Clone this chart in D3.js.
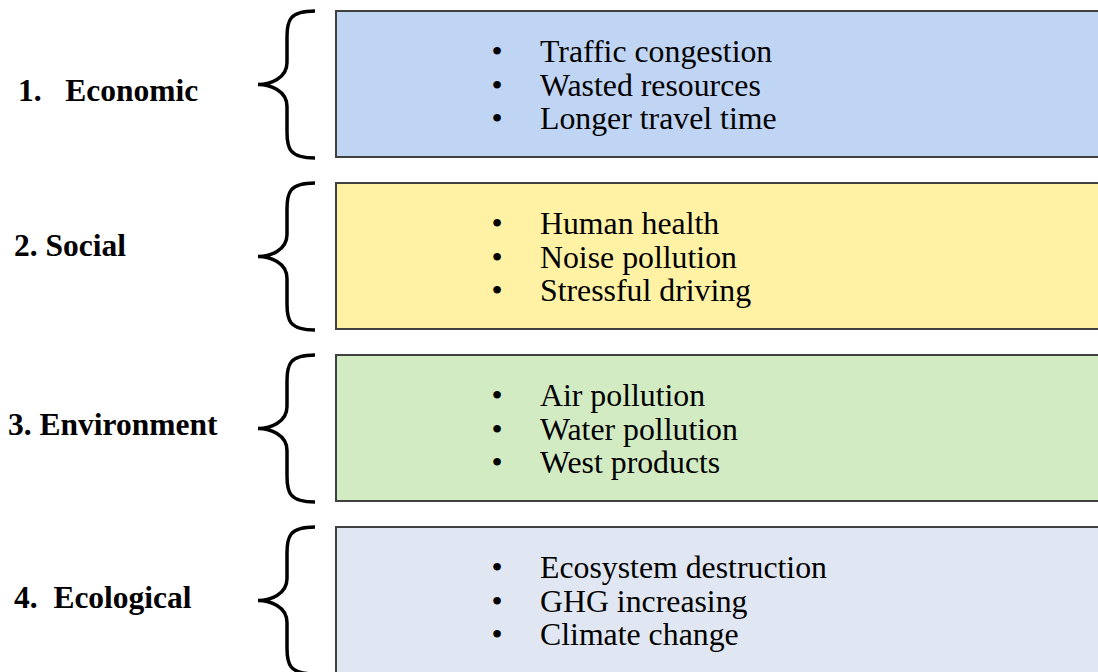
<!DOCTYPE html>
<html>
<head>
<meta charset="utf-8">
<script src="https://cdn.jsdelivr.net/npm/d3@7"></script>
<style>
  body { margin: 0; background: #fff; }
  svg { display: block; }
  .label { font-family: "Liberation Serif", "Times New Roman", serif; font-weight: bold; font-size: 31.5px; white-space: pre; }
  .item { font-family: "Liberation Serif", "Times New Roman", serif; font-size: 31.8px; }
</style>
</head>
<body>
<div class="graph"></div>
<script>
// categories and their bullet items
const categories = ["Economic", "Social", "Environment", "Ecological"];
const labels = ["1.   Economic", "2. Social", "3. Environment", "4.  Ecological"];
const items = [
  ["Traffic congestion", "Wasted resources", "Longer travel time"],
  ["Human health", "Noise pollution", "Stressful driving"],
  ["Air pollution", "Water pollution", "West products"],
  ["Ecosystem destruction", "GHG increasing", "Climate change"]
];
const fills = ["#c0d4f4", "#fff2a5", "#d2ebc3", "#e1e7f2"];

let width = 1098, height = 672;

let svg = d3.select(".graph").append("svg")
    .attr("width", width)
    .attr("height", height);

// one row per category
let y = d3.scaleBand()
    .domain(categories)
    .range([11, 673])
    .paddingInner(26 / 172)
    .paddingOuter(0);

let boxLeft = 336, boxRight = 1102;

// small hand tweaks to match the label placement
let labelX = [18, 14, 8, 14];
let labelDy = [17, 0, 7, 8];

let rows = svg.selectAll(".row")
    .data(categories)
    .enter().append("g")
    .attr("class", "row")
    .attr("transform", d => "translate(0," + y(d) + ")");

rows.append("rect")
    .attr("x", boxLeft)
    .attr("y", 0)
    .attr("width", boxRight - boxLeft)
    .attr("height", y.bandwidth())
    .attr("fill", (d, i) => fills[i])
    .attr("stroke", "#404040")
    .style("stroke-width", "2px");

// curly brace pointing left
function brace(h) {
  let xe = 315, xv = 287, xt = 258, m = h / 2;
  return "M" + xe + ",0" +
    " C" + (xv + 2) + ",0 " + xv + ",10 " + xv + "," + 26 +
    " L" + xv + "," + (m - 22) +
    " C" + xv + "," + (m - 6) + " " + (xt + 12) + "," + m + " " + xt + "," + m +
    " C" + (xt + 12) + "," + m + " " + xv + "," + (m + 6) + " " + xv + "," + (m + 22) +
    " L" + xv + "," + (h - 26) +
    " C" + xv + "," + (h - 10) + " " + (xv + 2) + "," + h + " " + xe + "," + h;
}

rows.append("path")
    .attr("d", brace(y.bandwidth() + 1))
    .attr("fill", "none")
    .attr("stroke", "#000")
    .style("stroke-width", "3.5px");

rows.append("text")
    .attr("class", "label")
    .attr("x", (d, i) => labelX[i])
    .attr("y", (d, i) => y.bandwidth() / 2 + labelDy[i])
    .text((d, i) => labels[i]);

let lineH = 33.5;
rows.each(function (d, i) {
  let g = d3.select(this);
  let lines = g.selectAll(".line")
      .data(items[i])
      .enter().append("g")
      .attr("class", "line")
      .attr("transform", (t, j) => "translate(0," + (51 + j * lineH) + ")");
  lines.append("text")
      .attr("class", "item")
      .attr("x", 497)
      .attr("text-anchor", "middle")
      .text("\u2022");
  lines.append("text")
      .attr("class", "item")
      .attr("x", 540)
      .text(t => t);
});
</script>
</body>
</html>
